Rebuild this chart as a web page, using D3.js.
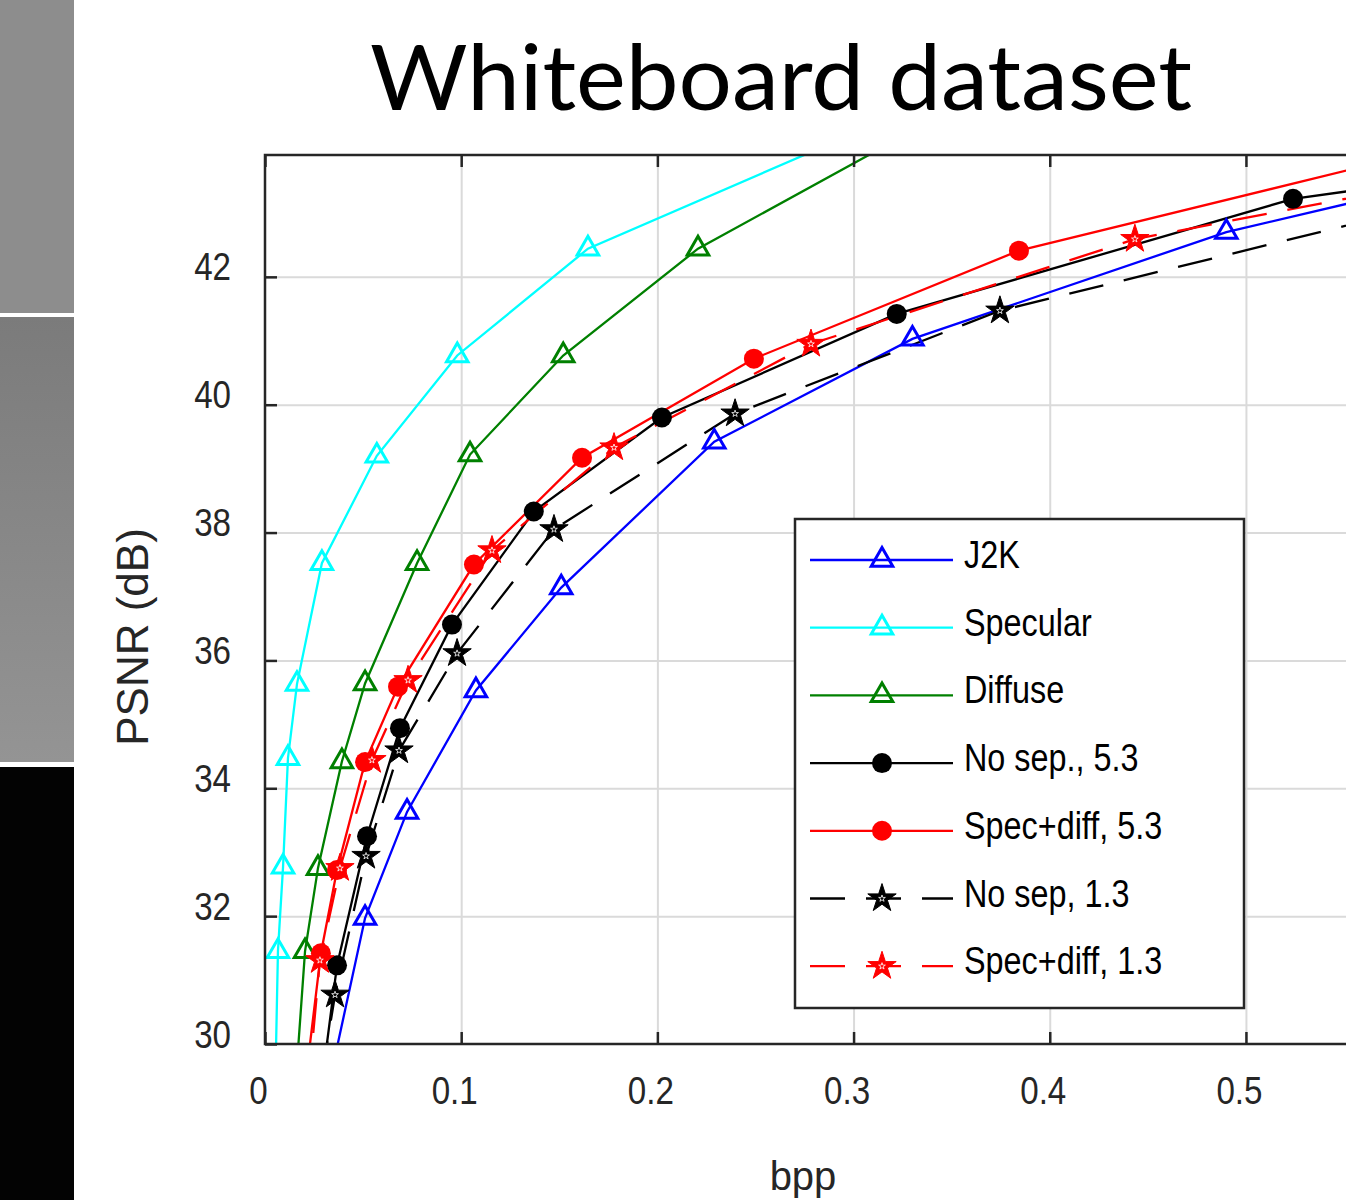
<!DOCTYPE html>
<html>
<head>
<meta charset="utf-8">
<script src="https://cdn.jsdelivr.net/npm/d3@7"></script>
<style>
  body { margin: 0; background: #fff; }
  svg { display: block; }
</style>
</head>
<body>
<script>
// ---- data (first/last points lie outside the visible box) ----
const xTicks = [0, 0.1, 0.2, 0.3, 0.4, 0.5];
const yTicks = [30, 32, 34, 36, 38, 40, 42];

const j2kBpp  = [0.030, 0.051, 0.0724, 0.1075, 0.151, 0.229, 0.330, 0.490, 0.750];
const j2kPsnr = [29.0, 31.97, 33.63, 35.53, 37.14, 39.42, 41.03, 42.70, 44.57];

const specBpp  = [0.005, 0.0066, 0.0092, 0.0117, 0.0163, 0.029, 0.057, 0.098, 0.1646, 0.300];
const specPsnr = [29.0, 31.45, 32.77, 34.47, 35.63, 37.52, 39.20, 40.77, 42.44, 44.24];

const diffBpp  = [0.0145, 0.0204, 0.027, 0.0392, 0.051, 0.0775, 0.1045, 0.152, 0.2207, 0.330];
const diffPsnr = [28.9, 31.45, 32.75, 34.42, 35.64, 37.52, 39.22, 40.77, 42.44, 44.28];

const noSep53Bpp  = [0.0265, 0.0367, 0.052, 0.0688, 0.0953, 0.137, 0.2023, 0.322, 0.524, 0.800];
const noSep53Psnr = [28.8, 31.23, 33.25, 34.94, 36.56, 38.33, 39.80, 41.42, 43.22, 44.40];

const sd53Bpp  = [0.019, 0.0285, 0.0367, 0.051, 0.0678, 0.1065, 0.1616, 0.2492, 0.3843, 0.600];
const sd53Psnr = [29.0, 31.42, 32.72, 34.41, 35.59, 37.50, 39.17, 40.72, 42.41, 44.03];

const noSep13Bpp  = [0.029, 0.0357, 0.0515, 0.0683, 0.0979, 0.1473, 0.2396, 0.3746, 0.600];
const noSep13Psnr = [29.5, 30.77, 32.94, 34.59, 36.11, 38.05, 39.86, 41.47, 43.17];

const sd13Bpp  = [0.022, 0.028, 0.0382, 0.0545, 0.0729, 0.1157, 0.1779, 0.2783, 0.4434, 0.600];
const sd13Psnr = [29.3, 31.31, 32.75, 34.44, 35.69, 37.72, 39.33, 40.95, 42.59, 43.51];

const seriesNames = ["J2K", "Specular", "Diffuse", "No sep., 5.3", "Spec+diff, 5.3", "No sep, 1.3", "Spec+diff, 1.3"];

// ---- series styling table ----
const zip = (a, b) => a.map((v, i) => [v, b[i]]);
const series = [
  { pts: zip(j2kBpp, j2kPsnr),         color: "#0000ff", marker: "tri",  dash: null },
  { pts: zip(specBpp, specPsnr),       color: "#00ffff", marker: "tri",  dash: null },
  { pts: zip(diffBpp, diffPsnr),       color: "#008000", marker: "tri",  dash: null },
  { pts: zip(noSep53Bpp, noSep53Psnr), color: "#000000", marker: "dot",  dash: null },
  { pts: zip(sd53Bpp, sd53Psnr),       color: "#ff0000", marker: "dot",  dash: null },
  { pts: zip(noSep13Bpp, noSep13Psnr), color: "#000000", marker: "star", dash: "35,21" },
  { pts: zip(sd13Bpp, sd13Psnr),       color: "#ff0000", marker: "star", dash: "35,21" }
].map((s, i) => ({ ...s, name: seriesNames[i] }));

// ---- layout ----
const W = 1346, H = 1200;
const m = { left: 265, top: 155, right: 1346, bottom: 1044 };
const axisColor = "#262626";
const narrow = 0.85;

const svg = d3.select("body").append("svg").attr("width", W).attr("height", H);

// left decorative stripes
const defs = svg.append("defs");
const grad = defs.append("linearGradient").attr("id", "g2").attr("x1", 0).attr("y1", 0).attr("x2", 0).attr("y2", 1);
grad.append("stop").attr("offset", "0%").attr("stop-color", "#7b7b7b");
grad.append("stop").attr("offset", "100%").attr("stop-color", "#949494");
svg.append("rect").attr("x", 0).attr("y", 0).attr("width", 74).attr("height", 313).attr("fill", "#8d8d8d");
svg.append("rect").attr("x", 0).attr("y", 317).attr("width", 74).attr("height", 445).attr("fill", "url(#g2)");
svg.append("rect").attr("x", 0).attr("y", 767).attr("width", 74).attr("height", 433).attr("fill", "#030303");

// title
svg.append("text")
  .attr("x", 781).attr("y", 110)
  .attr("text-anchor", "middle")
  .attr("textLength", 822).attr("lengthAdjust", "spacingAndGlyphs")
  .style("font-family", "Lato, 'Open Sans', sans-serif")
  .style("font-size", "91px")
  .attr("fill", "#000")
  .text("Whiteboard dataset");

const x = d3.scaleLinear().domain([0, 0.551]).range([m.left, m.right]);
const y = d3.scaleLinear().domain([30, 43.906]).range([m.bottom, m.top]);

defs.append("clipPath").attr("id", "plot")
  .append("rect").attr("x", m.left).attr("y", m.top).attr("width", m.right - m.left).attr("height", m.bottom - m.top);

// grid
const grid = svg.append("g").attr("class", "grid");
grid.append("g")
  .attr("transform", `translate(0,${m.bottom})`)
  .call(d3.axisBottom(x).tickValues(xTicks.slice(1)).tickSize(-(m.bottom - m.top)).tickFormat(""));
grid.append("g")
  .attr("transform", `translate(${m.left},0)`)
  .call(d3.axisLeft(y).tickValues(yTicks.slice(1)).tickSize(-(m.right - m.left)).tickFormat(""));
grid.selectAll(".domain").remove();
grid.selectAll("line").attr("stroke", "#dadada").attr("stroke-width", 2);

// lines and markers
const line = d3.line().x(d => x(d[0])).y(d => y(d[1]));
const plot = svg.append("g").attr("clip-path", "url(#plot)");

function drawMarker(g, s, size) {
  if (s.marker === "tri") {
    g.append("path").attr("d", d3.symbol(d3.symbolTriangle, size.tri)())
      .attr("fill", "none").attr("stroke", s.color).attr("stroke-width", 3);
  } else if (s.marker === "dot") {
    g.append("circle").attr("r", 10).attr("fill", s.color);
  } else {
    g.append("path").attr("d", d3.symbol(d3.symbolStar, size.star)())
      .attr("fill", s.color).attr("stroke", s.color).attr("stroke-width", 1);
    g.append("path").attr("d", d3.symbol(d3.symbolStar, 14)())
      .attr("fill", "none").attr("stroke", "#fff").attr("stroke-width", 0.8);
  }
}
const mSize = { tri: 200, star: 250 };

series.forEach(s => {
  plot.append("path")
    .datum(s.pts)
    .attr("d", line)
    .attr("fill", "none")
    .attr("stroke", s.color)
    .attr("stroke-width", 2.3)
    .attr("stroke-dasharray", s.dash);
});
series.forEach(s => {
  plot.selectAll(null)
    .data(s.pts)
    .enter().append("g")
    .attr("transform", d => `translate(${x(d[0])},${y(d[1])})`)
    .each(function () { drawMarker(d3.select(this), s, mSize); });
});

// axes (ticks inward)
const tickFont = "'Liberation Sans', Arial, Helvetica, sans-serif";
const yAxis = svg.append("g")
  .attr("transform", `translate(${m.left},0)`)
  .call(d3.axisLeft(y).tickValues(yTicks).tickSizeInner(-12).tickSizeOuter(0).tickPadding(34));
yAxis.selectAll("text")
  .attr("x", -34 / narrow)
  .attr("dy", "3")
  .attr("transform", `scale(${narrow},1)`);

const xAxis = svg.append("g")
  .attr("transform", `translate(0,${m.bottom})`)
  .call(d3.axisBottom(x).tickValues(xTicks).tickSizeInner(-12).tickSizeOuter(0).tickPadding(32)
    .tickFormat(d3.format("~g")));
xAxis.selectAll("text")
  .attr("x", -7 / narrow)
  .attr("transform", `scale(${narrow},1)`);

const topAxis = svg.append("g")
  .attr("transform", `translate(0,${m.top})`)
  .call(d3.axisTop(x).tickValues(xTicks).tickSizeInner(-12).tickSizeOuter(0).tickFormat(""));

[yAxis, xAxis, topAxis].forEach(a => {
  a.select(".domain").remove();
  a.selectAll("line").attr("stroke", axisColor).attr("stroke-width", 2.5);
  a.selectAll("text").style("font-family", tickFont).style("font-size", "39px").attr("fill", axisColor);
});

// frame (left, top, bottom; right side is cut off)
svg.append("path")
  .attr("d", `M${m.right},${m.top}H${m.left}V${m.bottom}H${m.right}`)
  .attr("fill", "none").attr("stroke", axisColor).attr("stroke-width", 2.5);

// axis titles
svg.append("text")
  .attr("transform", `translate(148,637) rotate(-90)`)
  .attr("text-anchor", "middle")
  .style("font-family", tickFont).style("font-size", "44px")
  .attr("fill", axisColor)
  .text("PSNR (dB)");
svg.append("text")
  .attr("x", 803).attr("y", 1190)
  .attr("text-anchor", "middle")
  .style("font-family", tickFont).style("font-size", "40px")
  .attr("fill", axisColor)
  .text("bpp");

// legend
const lg = svg.append("g");
lg.append("rect").attr("x", 795).attr("y", 519).attr("width", 449).attr("height", 489)
  .attr("fill", "#fff").attr("stroke", axisColor).attr("stroke-width", 2.5);
series.forEach((s, i) => {
  const ry = 560 + i * 67.7;
  lg.append("line").attr("x1", 810).attr("x2", 953).attr("y1", ry).attr("y2", ry)
    .attr("stroke", s.color).attr("stroke-width", 2.3).attr("stroke-dasharray", s.dash);
  drawMarker(lg.append("g").attr("transform", `translate(882,${ry})`), s, mSize);
  lg.append("text")
    .attr("transform", `translate(964,${ry + 8}) scale(0.83,1)`)
    .style("font-family", tickFont).style("font-size", "39px")
    .attr("fill", "#000")
    .text(s.name);
});
</script>
</body>
</html>
